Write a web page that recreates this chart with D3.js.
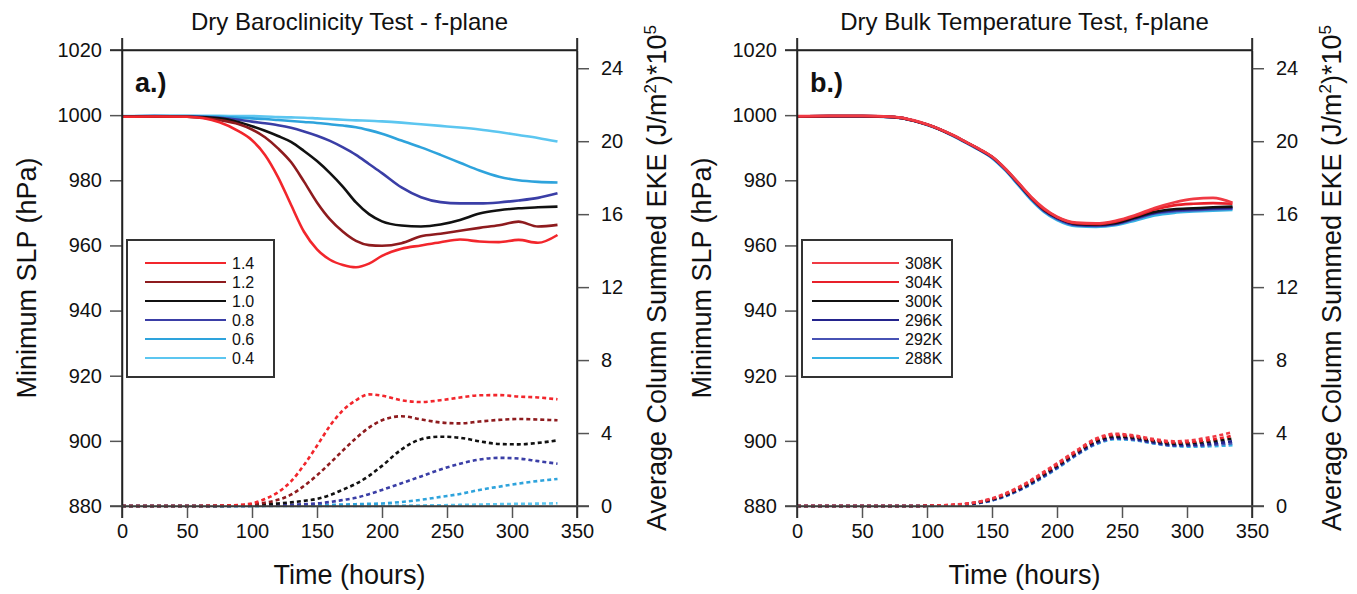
<!DOCTYPE html>
<html>
<head>
<meta charset="utf-8">
<script src="https://cdn.jsdelivr.net/npm/d3@7"></script>
<style>
  body { margin: 0; background: #fff; }
  svg text { font-family: "Liberation Sans", Arial, Helvetica, sans-serif; fill: #111; }
</style>
</head>
<body>
<div id="chart"></div>
<script>
// time axis shared by all curves (hours)
const hours = [0, 25, 50, 75, 90, 100, 110, 120, 130, 140, 150, 160, 170, 180, 190, 200, 215, 230, 245, 260, 275, 290, 305, 320, 335];

// panel a: minimum SLP (hPa)
const slpA14 = [999.5, 999.6, 999.5, 997.8, 995.0, 992.3, 987.8, 981.0, 972.5, 964.2, 958.8, 955.6, 954.0, 953.3, 954.4, 956.8, 959.0, 960.0, 961.0, 961.8, 961.2, 961.0, 961.7, 960.8, 963.2];
const slpA12 = [999.5, 999.6, 999.5, 998.5, 997.2, 995.6, 993.2, 989.8, 985.6, 979.6, 973.2, 968.0, 964.2, 961.4, 960.1, 959.9, 960.7, 962.8, 963.6, 964.5, 965.4, 966.2, 967.3, 965.8, 966.3];
const slpA10 = [999.6, 999.6, 999.5, 999.0, 997.8, 996.6, 995.2, 993.6, 991.8, 989.0, 985.9, 982.2, 978.0, 973.2, 969.6, 967.4, 966.1, 965.8, 966.4, 967.8, 969.8, 970.8, 971.4, 971.7, 971.9];
const slpA08 = [999.6, 999.7, 999.6, 999.2, 998.6, 998.0, 997.5, 996.9, 996.1, 995.0, 993.7, 992.1, 990.1, 987.8, 985.0, 982.2, 977.8, 974.8, 973.3, 972.9, 972.9, 973.2, 973.8, 974.6, 976.0];
const slpA06 = [999.6, 999.7, 999.7, 999.5, 999.2, 999.0, 998.8, 998.5, 998.2, 997.9, 997.6, 997.2, 996.8, 996.3, 995.4, 994.3, 992.2, 990.1, 987.8, 985.4, 983.0, 981.1, 980.0, 979.5, 979.3];
const slpA04 = [999.7, 999.8, 999.8, 999.8, 999.7, 999.7, 999.6, 999.4, 999.3, 999.2, 999.0, 998.8, 998.6, 998.4, 998.3, 998.1, 997.7, 997.2, 996.7, 996.2, 995.6, 994.8, 993.9, 993.0, 991.9];

// panel a: EKE (*10^5 J/m2)
const ekeA14 = [0, 0, 0, 0.02, 0.06, 0.14, 0.38, 0.75, 1.35, 2.25, 3.3, 4.4, 5.25, 5.8, 6.12, 6.05, 5.8, 5.7, 5.8, 5.95, 6.07, 6.08, 6.0, 5.95, 5.85];
const ekeA12 = [0, 0, 0, 0.01, 0.04, 0.1, 0.18, 0.34, 0.62, 1.1, 1.68, 2.35, 3.05, 3.72, 4.3, 4.7, 4.92, 4.75, 4.58, 4.53, 4.63, 4.72, 4.77, 4.74, 4.7];
const ekeA10 = [0, 0, 0, 0, 0.02, 0.05, 0.09, 0.14, 0.2, 0.28, 0.39, 0.6, 0.9, 1.22, 1.65, 2.2, 3.1, 3.66, 3.8, 3.74, 3.55, 3.4, 3.38, 3.46, 3.6];
const ekeA08 = [0, 0, 0, 0, 0, 0.01, 0.02, 0.04, 0.07, 0.1, 0.14, 0.22, 0.33, 0.45, 0.65, 0.88, 1.25, 1.62, 2.0, 2.32, 2.55, 2.64, 2.6, 2.46, 2.32];
const ekeA06 = [0, 0, 0, 0, 0, 0, 0.01, 0.01, 0.02, 0.03, 0.04, 0.06, 0.08, 0.1, 0.12, 0.14, 0.22, 0.34, 0.5, 0.66, 0.88, 1.06, 1.23, 1.37, 1.48];
const ekeA04 = [0, 0, 0, 0, 0, 0, 0, 0, 0, 0, 0, 0, 0, 0, 0, 0.01, 0.02, 0.03, 0.04, 0.06, 0.08, 0.1, 0.12, 0.13, 0.15];

// panel b: minimum SLP (hPa)
const slpB308 = [999.7, 999.8, 999.8, 999.5, 998.4, 997.2, 995.7, 993.9, 991.8, 989.7, 987.3, 983.7, 979.4, 975.0, 971.4, 968.8, 967.0, 966.8, 967.6, 969.3, 971.5, 973.2, 974.3, 974.6, 973.1];
const slpB304 = [999.6, 999.7, 999.7, 999.4, 998.3, 997.1, 995.6, 993.8, 991.7, 989.6, 987.2, 983.6, 979.3, 974.8, 971.1, 968.7, 966.8, 966.6, 967.3, 969.0, 971.0, 972.3, 972.8, 973.0, 972.8];
const slpB300 = [999.6, 999.7, 999.7, 999.4, 998.3, 997.1, 995.6, 993.8, 991.7, 989.6, 987.2, 983.6, 979.2, 974.7, 971.0, 968.6, 966.6, 966.4, 966.9, 968.6, 970.3, 971.1, 971.4, 971.7, 971.9];
const slpB296 = [999.6, 999.7, 999.7, 999.4, 998.3, 997.1, 995.6, 993.8, 991.7, 989.5, 987.1, 983.5, 979.1, 974.6, 970.8, 968.4, 966.4, 966.2, 966.7, 968.4, 970.0, 970.8, 971.1, 971.4, 971.6];
const slpB292 = [999.6, 999.7, 999.7, 999.4, 998.3, 997.1, 995.6, 993.7, 991.6, 989.4, 987.0, 983.4, 978.9, 974.4, 970.6, 968.2, 966.2, 966.0, 966.5, 968.1, 969.8, 970.5, 970.8, 971.1, 971.3];
const slpB288 = [999.5, 999.6, 999.6, 999.3, 998.2, 997.0, 995.5, 993.6, 991.5, 989.3, 986.8, 983.1, 978.6, 974.0, 970.3, 967.8, 965.9, 965.7, 966.2, 967.6, 969.2, 970.0, 970.4, 970.7, 970.9];

// panel b: EKE
const ekeB308 = [0, 0, 0, 0, 0, 0.01, 0.03, 0.07, 0.13, 0.24, 0.42, 0.68, 1.02, 1.42, 1.88, 2.34, 3.05, 3.7, 3.96, 3.86, 3.66, 3.55, 3.62, 3.8, 4.05];
const ekeB304 = [0, 0, 0, 0, 0, 0.01, 0.03, 0.06, 0.12, 0.22, 0.39, 0.64, 0.97, 1.36, 1.81, 2.27, 2.98, 3.63, 3.9, 3.8, 3.6, 3.48, 3.52, 3.65, 3.85];
const ekeB300 = [0, 0, 0, 0, 0, 0.01, 0.02, 0.05, 0.1, 0.2, 0.36, 0.6, 0.92, 1.3, 1.74, 2.2, 2.92, 3.55, 3.82, 3.74, 3.55, 3.42, 3.45, 3.55, 3.7];
const ekeB296 = [0, 0, 0, 0, 0, 0.01, 0.02, 0.04, 0.09, 0.18, 0.33, 0.56, 0.87, 1.24, 1.67, 2.13, 2.85, 3.47, 3.74, 3.67, 3.48, 3.35, 3.36, 3.43, 3.55];
const ekeB292 = [0, 0, 0, 0, 0, 0.01, 0.02, 0.04, 0.08, 0.17, 0.31, 0.54, 0.84, 1.21, 1.63, 2.09, 2.81, 3.42, 3.7, 3.63, 3.45, 3.31, 3.3, 3.35, 3.44];
const ekeB288 = [0, 0, 0, 0, 0, 0, 0.01, 0.03, 0.07, 0.15, 0.3, 0.52, 0.82, 1.18, 1.6, 2.05, 2.78, 3.38, 3.66, 3.6, 3.42, 3.28, 3.25, 3.28, 3.33];

const labelsA = ["1.4", "1.2", "1.0", "0.8", "0.6", "0.4"];
const labelsB = ["308K", "304K", "300K", "296K", "292K", "288K"];
const colorsA = ["#f2262c", "#8e1b1e", "#111111", "#3a3ea6", "#2ea3dc", "#5cc6f0"];
const colorsB = ["#f03a44", "#e8202a", "#111111", "#23238c", "#4752b4", "#36b2e4"];

const xTicks = [0, 50, 100, 150, 200, 250, 300, 350];
const slpTicks = [880, 900, 920, 940, 960, 980, 1000, 1020];
const ekeTicks = [0, 4, 8, 12, 16, 20, 24];

const width = 1357, height = 594;
const svg = d3.select("#chart").append("svg")
  .attr("width", width).attr("height", height);

function drawPanel(p) {
  const x = d3.scaleLinear().domain([0, 350]).range([p.left, p.left + 455]);
  const y = d3.scaleLinear().domain([880, 1020]).range([506, 50]);
  const y2 = d3.scaleLinear().domain([0, 25]).range([506, 50]);
  const g = svg.append("g");

  // curves (drawn from last legend entry to first, so first sits on top)
  const line = (ys) => d3.line()
    .x((d, i) => x(hours[i]))
    .y(d => ys(d))
    .curve(d3.curveMonotoneX);

  for (let k = p.slp.length - 1; k >= 0; k--) {
    g.append("path").datum(p.slp[k])
      .attr("d", line(y))
      .attr("fill", "none").attr("stroke", p.colors[k])
      .attr("stroke-width", 2.6).attr("stroke-linejoin", "round");
  }
  for (let k = p.eke.length - 1; k >= 0; k--) {
    g.append("path").datum(p.eke[k])
      .attr("d", line(y2))
      .attr("fill", "none").attr("stroke", p.colors[k])
      .attr("stroke-width", 2.6).attr("stroke-dasharray", "4,3");
  }

  // axes
  const fmt = d3.format("d");
  const axStyle = sel => {
    sel.selectAll("path").attr("stroke", "#222").attr("stroke-width", 1.5);
    sel.selectAll("line").attr("stroke", "#555").attr("stroke-width", 1.5);
    sel.selectAll("text").style("font-size", "20px").attr("fill", "#111");
  };
  g.append("g").attr("transform", "translate(0,506)")
    .call(d3.axisBottom(x).tickValues(xTicks).tickFormat(fmt).tickSize(12).tickSizeOuter(0).tickPadding(6))
    .call(axStyle);
  g.append("g").attr("transform", "translate(0,50)")
    .call(d3.axisTop(x).tickValues([0, 350]).tickSize(12).tickSizeOuter(0).tickFormat(""))
    .call(axStyle);
  g.append("g").attr("transform", `translate(${p.left},0)`)
    .call(d3.axisLeft(y).tickValues(slpTicks).tickFormat(fmt).tickSize(12).tickSizeOuter(0).tickPadding(8))
    .call(axStyle);
  g.append("g").attr("transform", `translate(${p.left + 455},0)`)
    .call(d3.axisRight(y2).tickValues(ekeTicks).tickFormat(fmt).tickSize(12).tickSizeOuter(0).tickPadding(12))
    .call(axStyle);
  // extend verticals past the frame like the original
  [p.left, p.left + 455].forEach(xx => {
    g.append("line").attr("x1", xx).attr("x2", xx).attr("y1", 38).attr("y2", 518)
      .attr("stroke", "#222").attr("stroke-width", 1.5);
  });
  g.append("line").attr("x1", p.left - 12).attr("x2", p.left + 467).attr("y1", 506).attr("y2", 506)
    .attr("stroke", "#444").attr("stroke-width", 1.5);
  g.append("line").attr("x1", p.left - 12).attr("x2", p.left + 455).attr("y1", 50).attr("y2", 50)
    .attr("stroke", "#222").attr("stroke-width", 1.5);

  // titles
  const cx = p.left + 227.5;
  g.append("text").attr("x", cx).attr("y", 30).attr("text-anchor", "middle")
    .style("font-size", "24px").text(p.title);
  g.append("text").attr("x", cx).attr("y", 584).attr("text-anchor", "middle")
    .style("font-size", "27px").text("Time (hours)");
  g.append("text").attr("transform", `translate(${p.left - 86},278) rotate(-90)`)
    .attr("text-anchor", "middle").style("font-size", "27px").text("Minimum SLP (hPa)");
  const rl = g.append("text").attr("transform", `translate(${p.left + 544},278) rotate(-90)`)
    .attr("text-anchor", "middle").style("font-size", "27px");
  rl.append("tspan").text("Average Column Summed EKE (J/m");
  rl.append("tspan").attr("dy", -10).style("font-size", "17px").text("2");
  rl.append("tspan").attr("dy", 10).text(")*10");
  rl.append("tspan").attr("dy", -10).style("font-size", "17px").text("5");

  // panel letter
  g.append("text").attr("x", p.left + 13).attr("y", 92)
    .style("font-size", "27px").style("font-weight", "bold").text(p.tag);

  // legend
  const lg = g.append("g");
  lg.append("rect").attr("x", p.legend.x).attr("y", 240)
    .attr("width", p.legend.w).attr("height", 137)
    .attr("fill", "#fff").attr("stroke", "#333").attr("stroke-width", 2);
  p.labels.forEach((lab, k) => {
    const yy = 263 + k * 19;
    lg.append("line").attr("x1", p.legend.x1).attr("x2", p.legend.x2)
      .attr("y1", yy).attr("y2", yy)
      .attr("stroke", p.colors[k]).attr("stroke-width", 2);
    lg.append("text").attr("x", p.legend.x2 + 6).attr("y", yy + 6)
      .style("font-size", "16px").text(lab);
  });
}

drawPanel({
  left: 122, title: "Dry Baroclinicity Test - f-plane", tag: "a.)",
  slp: [slpA14, slpA12, slpA10, slpA08, slpA06, slpA04],
  eke: [ekeA14, ekeA12, ekeA10, ekeA08, ekeA06, ekeA04],
  colors: colorsA, labels: labelsA,
  legend: { x: 127, w: 147, x1: 145, x2: 226 }
});
drawPanel({
  left: 797, title: "Dry Bulk Temperature Test, f-plane", tag: "b.)",
  slp: [slpB308, slpB304, slpB300, slpB296, slpB292, slpB288],
  eke: [ekeB308, ekeB304, ekeB300, ekeB296, ekeB292, ekeB288],
  colors: colorsB, labels: labelsB,
  legend: { x: 802, w: 150, x1: 812, x2: 899 }
});
</script>
</body>
</html>
